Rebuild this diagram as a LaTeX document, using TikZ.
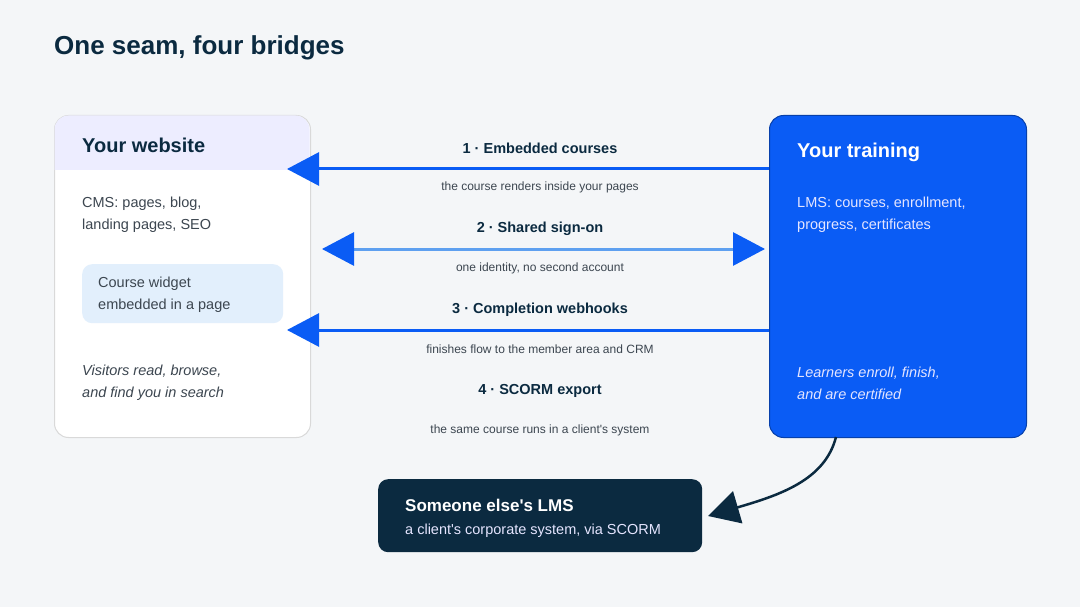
\documentclass[tikz,border=0pt]{standalone}
\usepackage{fontspec}
\setmainfont{Liberation Sans}
\usetikzlibrary{arrows.meta,positioning}
\definecolor{navy}{HTML}{0B2A40}
\definecolor{bright}{HTML}{0A5CF5}
\definecolor{soft}{HTML}{5EA0F0}
\definecolor{grey}{HTML}{3C4650}
\definecolor{page}{HTML}{F4F6F8}
\definecolor{pale}{HTML}{E2EFFC}
\begin{document}
\begin{tikzpicture}[x=1pt,y=-1pt,
        every node/.style={inner sep=0pt},
        caja/.style={draw, rounded corners=14pt, line width=1pt},
        titulo/.style={font=\bfseries\fontsize{20}{24}\selectfont, anchor=west},
        texto/.style={font=\fontsize{14.5}{22}\selectfont, anchor=west, align=left},
        puente/.style={font=\bfseries\fontsize{14.5}{17}\selectfont, text=navy},
        nota/.style={font=\fontsize{12}{15}\selectfont, text=grey},
        flecha/.style={bright, line width=3pt, -{Triangle[length=32pt 0,width=33pt 0]}}
    ]
    \fill[page] (0,0) rectangle (1080,607);
    \useasboundingbox (0,0) rectangle (1080,607);

    % Titulo
    \node[font=\bfseries\fontsize{26}{30}\selectfont, text=navy, anchor=west] (cabecera) at (54,48) {One seam, four bridges};

    % Sitio web
    \node[caja, draw=black!15, fill=white, minimum width=256pt, minimum height=322pt, anchor=north west] (web) at (54,115) {};
    \fill[blue!7, rounded corners=14pt] (54.5,115.5) -- (309.5,115.5) -- (309.5,170) [sharp corners]-- (54.5,170) [rounded corners=14pt]-- cycle;
    \node[titulo, text=navy] (webTitulo) at (82,145) {Your website};
    \node[texto, text=grey] (cms) at (82,215) {CMS: pages, blog,\\landing pages, SEO};
    \node[fill=pale, rounded corners=10pt, minimum width=201pt, minimum height=59pt, anchor=north west] (widget) at (82,264) {};
    \node[texto, text=grey] (widgetTexto) at (98,294.5) {Course widget\\embedded in a page};
    \node[texto, text=grey, font=\itshape\fontsize{14.5}{22}\selectfont] (visitas) at (82,383) {Visitors read, browse,\\and find you in search};

    % Formacion
    \node[caja, draw=bright!70!black, fill=bright, minimum width=257pt, minimum height=322pt, anchor=north west] (formacion) at (769,115) {};
    \node[titulo, text=white] (formacionTitulo) at (797,152) {Your training};
    \node[texto, text=white!90!blue] (lms) at (797,215) {LMS: courses, enrollment,\\progress, certificates};
    \node[texto, text=white!90!blue, font=\itshape\fontsize{14.5}{22}\selectfont] (alumnos) at (797,383) {Learners enroll, finish,\\and are certified};

    % Otro LMS
    \node[fill=navy, rounded corners=10pt, minimum width=324pt, minimum height=73pt, anchor=north west] (otro) at (378,479) {};
    \node[font=\bfseries\fontsize{17}{20}\selectfont, text=white, anchor=west] (otroTitulo) at (405,505) {Someone else\textquotesingle s LMS};
    \node[font=\fontsize{14.5}{17}\selectfont, text=white!90!blue, anchor=west] (otroTexto) at (405,531) {a client\textquotesingle s corporate system, via SCORM};

    % Puentes
    \node[puente] (p1) at (540,148) {1 · Embedded courses};
    \node[nota] (n1) at (540,187) {the course renders inside your pages};
    \node[puente] (p2) at (540,229) {2 · Shared sign-on};
    \node[nota] (n2) at (540,268) {one identity, no second account};
    \node[puente] (p3) at (540,310) {3 · Completion webhooks};
    \node[nota] (n3) at (540,349) {finishes flow to the member area and CRM};
    \node[puente] (p4) at (540,391) {4 · SCORM export};
    \node[nota] (n4) at (540,430) {the same course runs in a client\textquotesingle s system};

    % Aristas
    \coordinate (a1) at (769,169); \coordinate (b1) at (287,169);
    \coordinate (a2) at (322,249); \coordinate (b2) at (765,249);
    \coordinate (a3) at (769,330); \coordinate (b3) at (287,330);
    \coordinate (a4) at (836,437); \coordinate (b4) at (708,516);
    \draw[flecha] (a1) -- (b1);
    \draw[soft, line width=3pt, {Triangle[length=32pt 0,width=33pt 0,bright]}-{Triangle[length=32pt 0,width=33pt 0,bright]}] (a2) -- (b2);
    \draw[flecha] (a3) -- (b3);
    \draw[navy, line width=2.5pt, -{Triangle[length=31pt 0,width=33pt 0]}] (a4) .. controls (825,480) and (780,495) .. (b4);
\end{tikzpicture}
\end{document}
